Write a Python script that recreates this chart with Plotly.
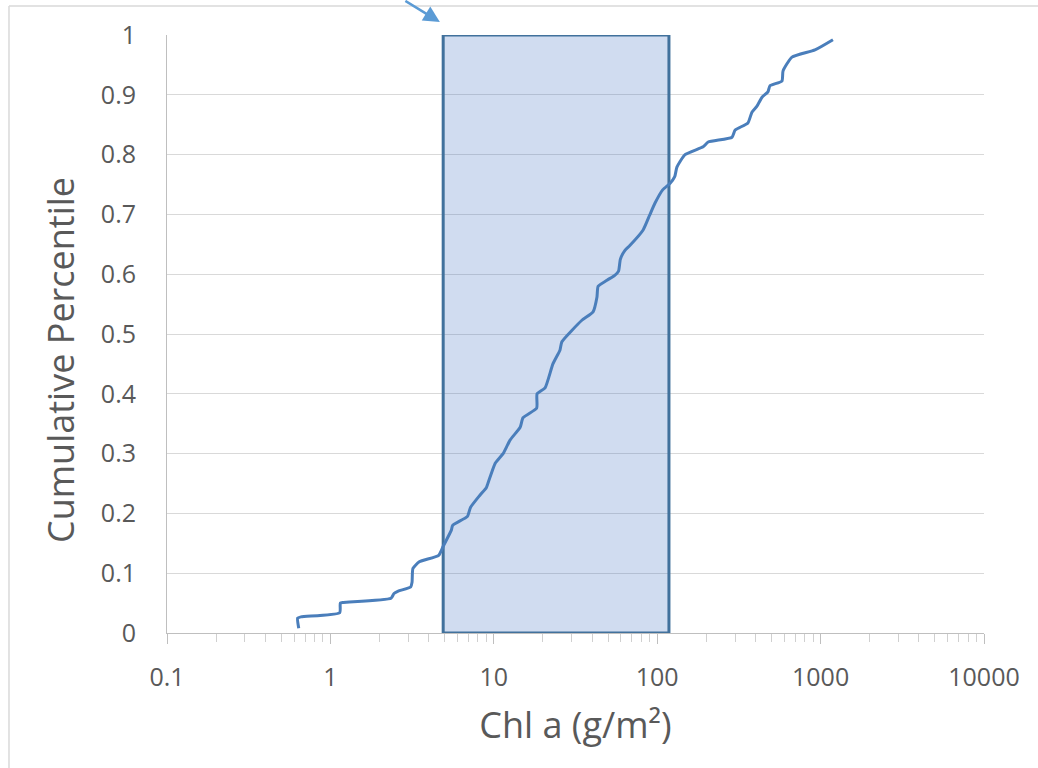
import plotly.graph_objects as go

# Cumulative distribution of Chl a
chl = [0.64, 0.63, 0.66, 1.14, 1.15, 1.2, 2.35, 2.45, 2.6, 3.1, 3.16, 3.2, 3.5, 4.6, 4.9,
       5.5, 5.6, 6.9, 7.2, 8.2, 9.0, 9.2, 10.2, 11.4, 12.6, 14.5, 15.1, 18.3, 18.4, 20.6,
       23.0, 25.4, 26.1, 34.6, 40.5, 42.8, 43.5, 49.3, 55.0, 58.0, 59.5, 63.5, 68.0, 82.0,
       90.0, 97.0, 108, 120, 128, 132, 148, 191, 205, 287, 300, 359, 380, 408, 438, 476,
       490, 580, 589, 668, 924, 1190]
pct = [0.008, 0.025, 0.027, 0.034, 0.05, 0.051, 0.058, 0.066, 0.07, 0.077, 0.085, 0.108, 0.119, 0.13, 0.145,
       0.172, 0.18, 0.195, 0.21, 0.23, 0.243, 0.25, 0.284, 0.30, 0.323, 0.344, 0.36, 0.376, 0.40, 0.41,
       0.45, 0.473, 0.487, 0.523, 0.537, 0.562, 0.58, 0.59, 0.598, 0.605, 0.625, 0.64, 0.648, 0.674,
       0.699, 0.719, 0.741, 0.752, 0.763, 0.779, 0.80, 0.813, 0.821, 0.829, 0.841, 0.853, 0.871, 0.881, 0.896, 0.905,
       0.915, 0.923, 0.94, 0.963, 0.975, 0.992]

box_x = [4.9, 118, 118, 4.9, 4.9]
box_y = [0, 0, 1, 1, 0]

x_tickvals = [0.1, 1, 10, 100, 1000, 10000]
x_ticktext = ["0.1", "1", "10", "100", "1000", "10000"]
y_tickvals = [0, 0.1, 0.2, 0.3, 0.4, 0.5, 0.6, 0.7, 0.8, 0.9, 1]
y_ticktext = ["0", "0.1", "0.2", "0.3", "0.4", "0.5", "0.6", "0.7", "0.8", "0.9", "1"]

minor_vals = [m * 10 ** e for e in range(-1, 4) for m in range(2, 10)]

fig = go.Figure()
fig.add_trace(go.Scatter(x=box_x, y=box_y, mode="lines", fill="toself",
                         fillcolor="rgba(68,114,196,0.25)",
                         line=dict(color="#41719c", width=3), hoverinfo="skip"))
fig.add_trace(go.Scatter(x=chl, y=pct, mode="lines",
                         line=dict(color="#4a7ebb", width=3, shape="spline", smoothing=0.5)))

font = "'Open Sans', sans-serif"
fig.update_layout(
    width=1038, height=768,
    margin=dict(l=167, r=54, t=35, b=135),
    paper_bgcolor="white", plot_bgcolor="white",
    showlegend=False,
    font=dict(family=font, color="#595959", size=25),
    xaxis=dict(type="log", range=[-1, 4], tickvals=x_tickvals, ticktext=x_ticktext,
               showgrid=False, zeroline=False, showline=True, linecolor="#bfbfbf", linewidth=1,
               ticks="outside", ticklen=10, tickcolor="#bfbfbf", tickwidth=1,
               minor=dict(tickvals=minor_vals, ticks="outside", ticklen=8, tickcolor="#d0d0d0", showgrid=False),
               tickfont=dict(size=25, color="#595959"), ticklabelstandoff=12,
               title=dict(text="Chl a (g/m²)", font=dict(size=36, color="#595959"), standoff=20)),
    yaxis=dict(range=[0, 1], tickvals=y_tickvals, ticktext=y_ticktext,
               showgrid=True, gridcolor="#d9d9d9", gridwidth=1, zeroline=False,
               showline=True, linecolor="#bfbfbf", linewidth=1,
               ticks="", tickfont=dict(size=25, color="#595959"), ticklabelstandoff=25),
    shapes=[
        dict(type="line", xref="paper", yref="paper", x0=-0.1934, x1=1.1, y0=1.0485, y1=1.0485,
             line=dict(color="#d9d9d9", width=1.5)),
        dict(type="line", xref="paper", yref="paper", x0=-0.1934, x1=-0.1934, y0=-0.3, y1=1.0485,
             line=dict(color="#d9d9d9", width=1.5)),
    ],
    annotations=[
        dict(xref="paper", yref="paper", x=0.334, y=1.0217, ax=-36, ay=-26, text="",
             showarrow=True, arrowhead=2, arrowsize=1.3, arrowwidth=2.5, arrowcolor="#5b9bd5"),
        dict(xref="paper", yref="paper", x=-0.131, y=0.4565, text="Cumulative Percentile",
             textangle=-90, showarrow=False, xanchor="center", yanchor="middle",
             font=dict(size=36, color="#595959")),
    ],
)

fig.write_html("out.html")
